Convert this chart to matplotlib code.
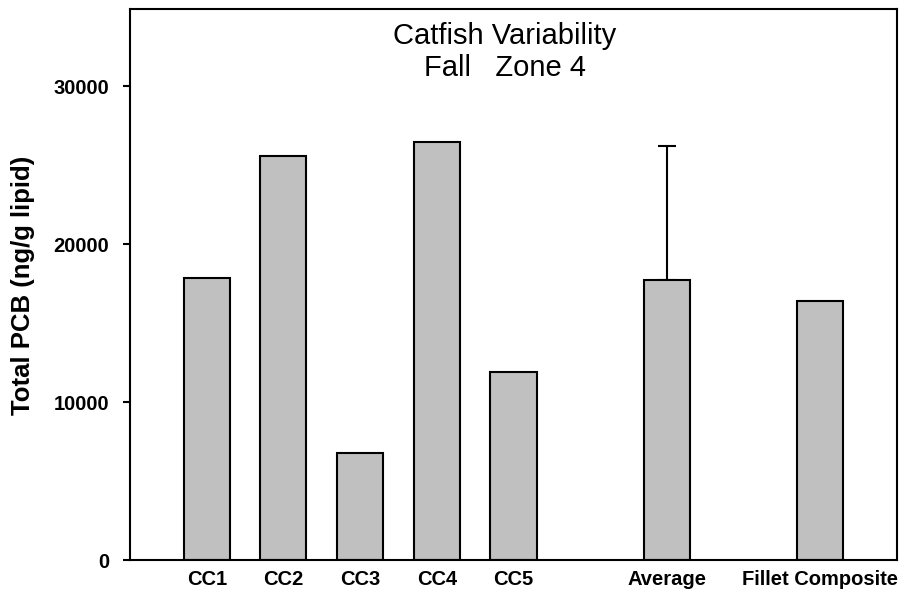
import numpy as np
import matplotlib.pyplot as plt

# data
labels = ['CC1', 'CC2', 'CC3', 'CC4', 'CC5', 'Average', 'Fillet Composite']
positions = [1, 2, 3, 4, 5, 7, 9]
values = [17850, 25600, 6800, 26500, 11900, 17730, 16400]
avg_sd = 8500  # upper error on the Average bar

plt.rcParams['font.family'] = ['Liberation Sans', 'DejaVu Sans']

fig = plt.figure(figsize=(9.07, 5.92), dpi=100)
ax = fig.add_axes([130/907, 1-560/592, 767/907, 551/592])

ax.bar(positions, values, width=0.6, color='#c0c0c0', edgecolor='black', linewidth=1.5, zorder=2)
ax.errorbar(positions[5], values[5], yerr=[[0], [avg_sd]], fmt='none', ecolor='black',
            elinewidth=1.5, capsize=6.5, capthick=1.5, zorder=1)

ax.set_xlim(0, 10)
ax.set_ylim(0, 34900)
ax.set_yticks([0, 10000, 20000, 30000])
ax.set_xticks(positions)
ax.set_xticklabels(labels, fontsize=14.5, fontweight='bold')
for t in ax.get_yticklabels():
    t.set_fontsize(14.5)
    t.set_fontweight('bold')
ax.tick_params(axis='y', direction='out', length=5, width=1.5, pad=10)
ax.tick_params(axis='x', length=0, pad=7)
for s in ax.spines.values():
    s.set_linewidth(1.5)

ax.text((505-130)/767, 0.9755, 'Catfish Variability\nFall   Zone 4', transform=ax.transAxes,
        ha='center', va='top', fontsize=21, linespacing=1.15)

fig.text(23/907, 1-285/592, 'Total PCB (ng/g lipid)', rotation=90, ha='center', va='center',
         fontsize=18.5, fontweight='bold')

fig.savefig('out.png', dpi=100)
